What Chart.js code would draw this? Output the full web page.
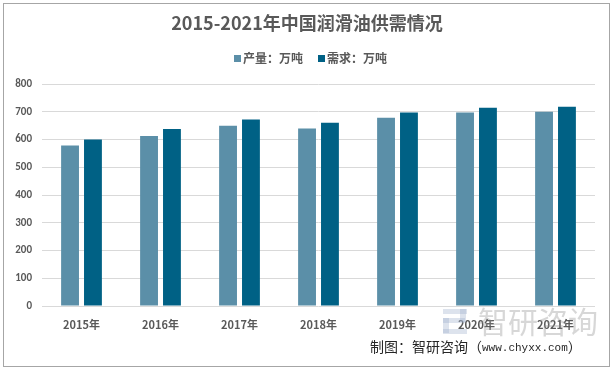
<!DOCTYPE html>
<html><head><meta charset="utf-8">
<script src="https://cdn.jsdelivr.net/npm/chart.js@4/dist/chart.umd.min.js"></script>
<style>
html,body{margin:0;padding:0;background:#fff;}
#wrap{position:absolute;left:0;top:0;width:614px;height:369px;}
#frame{position:absolute;left:3px;top:3px;width:605px;height:362px;border:1px solid #a6a6a6;pointer-events:none;}
</style></head>
<body>
<div id="wrap"><canvas id="c" width="614" height="369"></canvas><div id="frame"></div></div>
<script>
const categories = ['2015年','2016年','2017年','2018年','2019年','2020年','2021年'];
const production = [578, 613, 650, 640, 678, 697, 700];
const demand = [600, 638, 672, 660, 697, 714, 718];
const yTicks = [0,100,200,300,400,500,600,700,800];
const titleText = '2015-2021年中国润滑油供需情况';
const sourceCn = '制图：智研咨询';
const sourceUrl = 'www.chyxx.com';
const watermarkText = '智研咨询';

const extras = {
  id:'extras',
  afterDraw(chart){
    const ctx = chart.ctx;
    ctx.save();
    ctx.fillStyle = '#595959';
    ctx.font = 'bold 18px "Noto Sans CJK SC", sans-serif';
    ctx.textAlign = 'center';
    ctx.textBaseline = 'middle';
    ctx.fillText(titleText, 307, 23);
    // legend
    ctx.textAlign = 'left';
    ctx.font = 'bold 12px "Noto Sans CJK SC", sans-serif';
    let x = 234;
    chart.data.datasets.forEach((ds) => {
      ctx.fillStyle = ds.backgroundColor;
      ctx.fillRect(x, 55, 7, 7);
      ctx.fillStyle = '#595959';
      ctx.fillText(ds.label, x + 9, 58.5);
      x += 9 + ctx.measureText(ds.label).width + 15;
    });
    // watermark
    ctx.globalAlpha = 0.35;
    ctx.fillStyle = '#8c8c8c';
    ctx.font = '30px "Noto Sans CJK SC", sans-serif';
    ctx.fillText(watermarkText, 478, 322);
    ctx.fillStyle = '#9fb0cc';
    ctx.fillRect(443, 309, 24, 5);
    ctx.fillRect(460, 309, 6, 13);
    ctx.fillRect(443, 318, 22, 5);
    ctx.fillRect(443, 318, 6, 15);
    ctx.fillRect(443, 329, 24, 5);
    ctx.globalAlpha = 1;
    ctx.fillStyle = '#262626';
    ctx.font = '14px "Noto Sans CJK SC", sans-serif';
    ctx.fillText(sourceCn + '（', 370, 347);
    let ux = 370 + ctx.measureText(sourceCn + '（').width;
    ctx.font = '11px "Liberation Mono", monospace';
    ctx.fillText(sourceUrl, ux, 348);
    ux += ctx.measureText(sourceUrl).width;
    ctx.font = '14px "Noto Sans CJK SC", sans-serif';
    ctx.fillText('）', ux, 347);
    ctx.restore();
  }
};

new Chart(document.getElementById('c'), {
  type:'bar',
  data:{
    labels: categories,
    datasets:[
      {label:'产量：万吨', data: production, backgroundColor:'#5b8fa8', categoryPercentage:0.58, barPercentage:0.78},
      {label:'需求：万吨', data: demand, backgroundColor:'#006185', categoryPercentage:0.58, barPercentage:0.78}
    ]
  },
  plugins:[extras],
  options:{
    responsive:false,
    animation:false,
    layout:{padding:{left:10,right:19,top:84,bottom:0}},
    plugins:{
      title:{display:false},
      tooltip:{enabled:false},
      legend:{display:false}
    },
    scales:{
      x:{
        grid:{display:false},
        border:{display:false},
        ticks:{color:'#595959', font:{size:11, weight:'bold', family:'"Noto Sans CJK SC", sans-serif'}, padding:4},
        afterFit(s){ s.height = 63; }
      },
      y:{
        min:0, max:800,
        afterBuildTicks(s){ s.ticks = yTicks.map(v=>({value:v})); },
        grid:{color:'#d9d9d9', drawTicks:false, lineWidth:1},
        border:{display:false},
        ticks:{color:'#595959', padding:10, font:{size:11, weight:'bold', family:'Calibri, "Liberation Sans", sans-serif'}},
        afterFit(s){ s.width = 32; }
      }
    }
  }
});
</script>
</body></html>
